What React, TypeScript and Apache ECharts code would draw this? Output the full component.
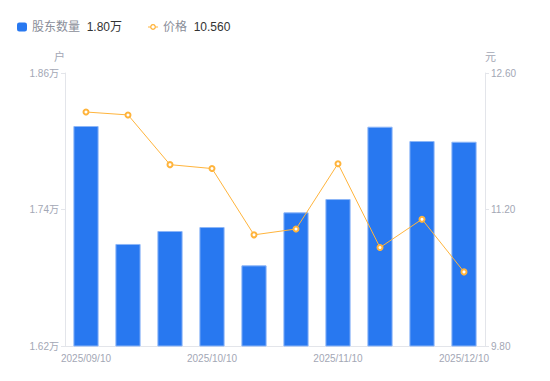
import React, { useEffect, useRef } from "react";
import * as echarts from "echarts";

const categories = [
  "2025/09/10", "2025/09/19", "2025/09/30", "2025/10/10", "2025/10/20",
  "2025/10/31", "2025/11/10", "2025/11/20", "2025/11/28", "2025/12/10",
];
const holders = [18134, 17097, 17211, 17246, 16909, 17375, 17492, 18128, 18002, 17996];
const prices = [12.2, 12.17, 11.66, 11.62, 10.94, 11.0, 11.67, 10.81, 11.1, 10.56];

const holderLabel = "股东数量";
const priceLabel = "价格";
const latestHolder = "1.80万";
const latestPrice = "10.560";

const lineIcon =
  "path://M0,4 L3,4 L3,5 L0,5 Z M9,4 L12,4 L12,5 L9,5 Z " +
  "M6,1 A3.5,3.5 0 1,1 5.99,1 Z M6,2.5 A2,2 0 1,0 6.01,2.5 Z";

export default function App() {
  const ref = useRef<HTMLDivElement>(null);
  useEffect(() => {
    document.body.style.margin = "0";
    if (!ref.current) return;
    const chart = echarts.init(ref.current, null, { renderer: "svg" });
    const axisColor = "#A3A7B5";
    const lineColor = "#E3E5EA";
    chart.setOption({
      animation: false,
      textStyle: { fontFamily: "'Liberation Sans', 'Noto Sans CJK SC', sans-serif" },
      legend: {
        left: 12,
        top: 16,
        itemWidth: 10,
        itemHeight: 9,
        itemGap: 26,
        data: [
          { name: holderLabel, icon: "roundRect", itemStyle: { borderWidth: 0 } },
          { name: priceLabel, icon: lineIcon, itemStyle: { color: "#FFB43C", borderWidth: 0 } },
        ],
        formatter: (name: string) =>
          name === holderLabel
            ? `{n|${name}}  {v|${latestHolder}}`
            : `{n|${name}}  {v|${latestPrice}}`,
        textStyle: {
          fontSize: 12,
          rich: {
            n: { color: "#8A8E99", fontSize: 12 },
            v: { color: "#333333", fontSize: 12 },
          },
        },
      },
      grid: { left: 65, right: 65, top: 73, bottom: 35, containLabel: false },
      xAxis: {
        type: "category",
        data: categories,
        boundaryGap: true,
        axisLine: { lineStyle: { color: lineColor } },
        axisTick: { show: false },
        axisLabel: { interval: 2, color: axisColor, fontSize: 10, margin: 7 },
        splitLine: { show: false },
      },
      yAxis: [
        {
          type: "value",
          min: 16200,
          max: 18600,
          interval: 1200,
          name: "户",
          nameGap: 11,
          nameTextStyle: { color: axisColor, fontSize: 11, align: "right" },
          axisLine: { show: true, lineStyle: { color: lineColor } },
          axisTick: { show: true, length: 4, lineStyle: { color: lineColor } },
          axisLabel: {
            color: axisColor,
            fontSize: 10,
            margin: 6,
            formatter: (v: number) => (v / 10000).toFixed(2) + "万",
          },
          splitLine: { show: false },
        },
        {
          type: "value",
          min: 9.8,
          max: 12.6,
          interval: 1.4,
          name: "元",
          nameGap: 11,
          nameTextStyle: { color: axisColor, fontSize: 11, align: "left" },
          axisLine: { show: true, lineStyle: { color: lineColor } },
          axisTick: { show: true, length: 4, lineStyle: { color: lineColor } },
          axisLabel: {
            color: axisColor,
            fontSize: 10,
            margin: 6,
            formatter: (v: number) => v.toFixed(2),
          },
          splitLine: { show: false },
        },
      ],
      series: [
        {
          name: holderLabel,
          type: "bar",
          yAxisIndex: 0,
          data: holders,
          barWidth: "60%",
          itemStyle: { color: "#2878F0", borderColor: "#8DB6F7", borderWidth: 1 },
        },
        {
          name: priceLabel,
          type: "line",
          yAxisIndex: 1,
          data: prices,
          symbol: "emptyCircle",
          symbolSize: 5,
          lineStyle: { color: "#FFB43C", width: 1 },
          itemStyle: { color: "#FFB43C", borderWidth: 2 },
        },
      ],
    });
    return () => chart.dispose();
  }, []);
  return <div ref={ref} style={{ width: 550, height: 381 }} />;
}
